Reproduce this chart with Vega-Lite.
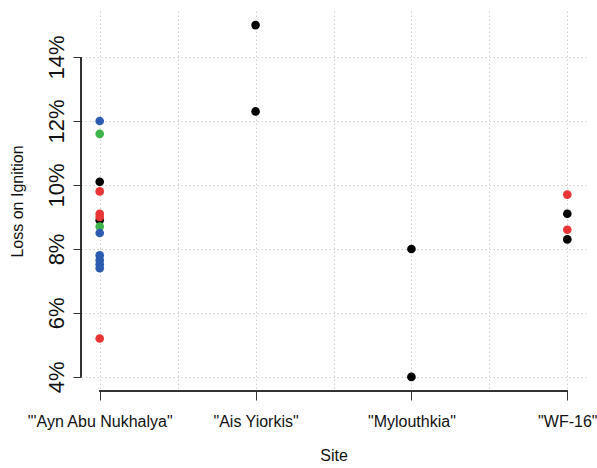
{
  "$schema": "https://vega.github.io/schema/vega-lite/v6.json",
  "width": 505,
  "height": 380,
  "autosize": {"type": "none"},
  "padding": {"left": 81, "top": 11, "right": 11, "bottom": 77},
  "background": "white",
  "config": {
    "view": {"stroke": null},
    "font": "Liberation Sans",
    "axis": {"labelFont": "Liberation Sans", "titleFont": "Liberation Sans", "labelColor": "#111", "titleColor": "#111", "titleFontWeight": "normal"}
  },
  "data": {
    "values": [
      {"site": "\"'Ayn Abu Nukhalya\"", "site_no": 1, "loi": 12.0, "group": "A"},
      {"site": "\"'Ayn Abu Nukhalya\"", "site_no": 1, "loi": 11.6, "group": "B"},
      {"site": "\"'Ayn Abu Nukhalya\"", "site_no": 1, "loi": 10.1, "group": "C"},
      {"site": "\"'Ayn Abu Nukhalya\"", "site_no": 1, "loi": 9.8, "group": "D"},
      {"site": "\"'Ayn Abu Nukhalya\"", "site_no": 1, "loi": 8.9, "group": "C"},
      {"site": "\"'Ayn Abu Nukhalya\"", "site_no": 1, "loi": 9.1, "group": "D"},
      {"site": "\"'Ayn Abu Nukhalya\"", "site_no": 1, "loi": 9.0, "group": "D"},
      {"site": "\"'Ayn Abu Nukhalya\"", "site_no": 1, "loi": 8.7, "group": "B"},
      {"site": "\"'Ayn Abu Nukhalya\"", "site_no": 1, "loi": 8.5, "group": "A"},
      {"site": "\"'Ayn Abu Nukhalya\"", "site_no": 1, "loi": 7.8, "group": "A"},
      {"site": "\"'Ayn Abu Nukhalya\"", "site_no": 1, "loi": 7.65, "group": "A"},
      {"site": "\"'Ayn Abu Nukhalya\"", "site_no": 1, "loi": 7.52, "group": "A"},
      {"site": "\"'Ayn Abu Nukhalya\"", "site_no": 1, "loi": 7.4, "group": "A"},
      {"site": "\"'Ayn Abu Nukhalya\"", "site_no": 1, "loi": 5.2, "group": "D"},
      {"site": "\"Ais Yiorkis\"", "site_no": 2, "loi": 15.0, "group": "C"},
      {"site": "\"Ais Yiorkis\"", "site_no": 2, "loi": 12.3, "group": "C"},
      {"site": "\"Mylouthkia\"", "site_no": 3, "loi": 8.0, "group": "C"},
      {"site": "\"Mylouthkia\"", "site_no": 3, "loi": 4.0, "group": "C"},
      {"site": "\"WF-16\"", "site_no": 4, "loi": 9.7, "group": "D"},
      {"site": "\"WF-16\"", "site_no": 4, "loi": 9.1, "group": "C"},
      {"site": "\"WF-16\"", "site_no": 4, "loi": 8.6, "group": "D"},
      {"site": "\"WF-16\"", "site_no": 4, "loi": 8.3, "group": "C"}
    ]
  },
  "layer": [
    {
      "mark": {"type": "rule", "color": "#333", "strokeWidth": 1},
      "encoding": {
        "x": {"datum": 1, "type": "quantitative"},
        "x2": {"datum": 4},
        "y": {"datum": 3.56, "type": "quantitative"}
      }
    },
    {
      "mark": {"type": "rule", "color": "#333", "strokeWidth": 1},
      "encoding": {
        "x": {"datum": 0.88, "type": "quantitative"},
        "y": {"datum": 4, "type": "quantitative"},
        "y2": {"datum": 14}
      }
    },
    {
      "mark": {"type": "circle", "size": 75, "opacity": 1},
      "encoding": {
        "x": {
          "field": "site_no",
          "type": "quantitative",
          "title": "Site",
          "scale": {"domain": [0.88, 4.12], "nice": false, "zero": false},
          "axis": {
            "values": [1, 1.5, 2, 2.5, 3, 3.5, 4],
            "labelExpr": "datum.value == 1 ? '\"\\'Ayn Abu Nukhalya\"' : datum.value == 2 ? '\"Ais Yiorkis\"' : datum.value == 3 ? '\"Mylouthkia\"' : datum.value == 4 ? '\"WF-16\"' : ''",
            "domain": false,
            "grid": true,
            "gridColor": "#cfcfcf",
            "gridDash": [1.5, 2.5],
            "gridWidth": 1,
            "tickColor": "#333",
            "tickSize": 9,
            "tickOpacity": {"condition": {"test": "datum.value % 1 !== 0", "value": 0}, "value": 1},
            "labelFontSize": 16,
            "labelPadding": 13,
            "labelOverlap": false,
            "labelFlush": false,
            "titleFontSize": 16,
            "titlePadding": 18
          }
        },
        "y": {
          "field": "loi",
          "type": "quantitative",
          "title": "Loss on Ignition",
          "scale": {"domain": [3.56, 15.44], "nice": false, "zero": false},
          "axis": {
            "values": [4, 6, 8, 10, 12, 14],
            "labelExpr": "datum.value + '%'",
            "domain": false,
            "grid": true,
            "gridColor": "#cfcfcf",
            "gridDash": [1.5, 2.5],
            "gridWidth": 1,
            "tickColor": "#333",
            "tickSize": 8,
            "labelAngle": -90,
            "labelAlign": "center",
            "labelBaseline": "alphabetic",
            "labelFontSize": 22,
            "labelPadding": 10,
            "labelOverlap": false,
            "titleFontSize": 16,
            "titlePadding": 20
          }
        },
        "color": {
          "field": "group",
          "type": "nominal",
          "scale": {"domain": ["A", "B", "C", "D"], "range": ["#2b5cb0", "#3db54a", "#000000", "#ea3536"]},
          "legend": null
        }
      }
    }
  ]
}
